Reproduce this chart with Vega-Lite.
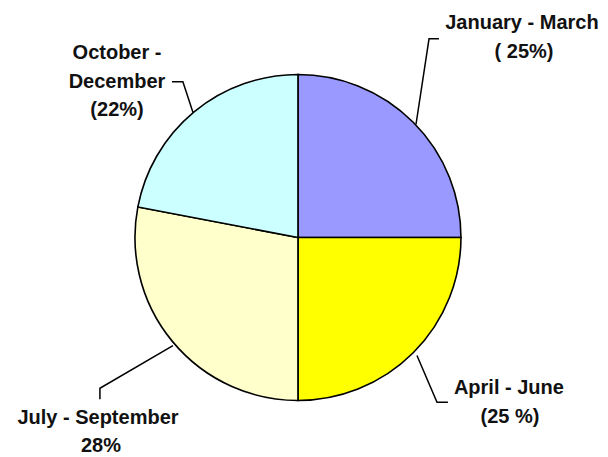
{
  "$schema": "https://vega.github.io/schema/vega-lite/v6.json",
  "width": 608,
  "height": 457,
  "autosize": {"type": "fit", "contains": "padding"},
  "padding": 0,
  "background": "white",
  "config": {"view": {"stroke": null}},
  "datasets": {
    "slices": [
      {"quarter": "January - March", "pct": 25, "ord": 1},
      {"quarter": "April - June", "pct": 25, "ord": 2},
      {"quarter": "July - September", "pct": 28, "ord": 3},
      {"quarter": "October - December", "pct": 22, "ord": 4}
    ],
    "labels": [
      {"text": "January - March", "lx": 137.4, "ly": 132.2},
      {"text": "( 25%)", "lx": 138.7, "ly": 114.4},
      {"text": "October -", "lx": -111.0, "ly": 113.8},
      {"text": "December", "lx": -111.0, "ly": 96.0},
      {"text": "(22%)", "lx": -111.0, "ly": 78.8},
      {"text": "April - June", "lx": 129.4, "ly": -92.9},
      {"text": "(25 %)", "lx": 130.1, "ly": -110.7},
      {"text": "July - September", "lx": -122.7, "ly": -111.3},
      {"text": "28%", "lx": -120.9, "ly": -128.5}
    ],
    "leaders": [
      {"grp": "jan", "i": 1, "px": 72.4, "py": 69.6},
      {"grp": "jan", "i": 2, "px": 80.4, "py": 122.4},
      {"grp": "jan", "i": 3, "px": 86.5, "py": 122.4},
      {"grp": "oct", "i": 1, "px": -77.3, "py": 96.0},
      {"grp": "oct", "i": 2, "px": -70.6, "py": 96.0},
      {"grp": "oct", "i": 3, "px": -64.4, "py": 77.0},
      {"grp": "apr", "i": 1, "px": 73.0, "py": -72.7},
      {"grp": "apr", "i": 2, "px": 85.3, "py": -101.5},
      {"grp": "apr", "i": 3, "px": 92.0, "py": -101.5},
      {"grp": "jul", "i": 1, "px": -76.7, "py": -66.6},
      {"grp": "jul", "i": 2, "px": -121.5, "py": -92.9},
      {"grp": "jul", "i": 3, "px": -121.5, "py": -99.7}
    ]
  },
  "layer": [
    {
      "data": {"name": "slices"},
      "mark": {"type": "arc", "outerRadius": 163, "stroke": "#000000", "strokeWidth": 1.6},
      "encoding": {
        "theta": {"field": "pct", "type": "quantitative", "stack": true},
        "order": {"field": "ord", "type": "quantitative", "sort": "ascending"},
        "color": {
          "field": "quarter",
          "type": "nominal",
          "scale": {
            "domain": ["January - March", "April - June", "July - September", "October - December"],
            "range": ["#9999FF", "#FFFF00", "#FFFFCC", "#CCFFFF"]
          },
          "legend": null
        },
        "x": {"datum": 0, "type": "quantitative", "scale": {"domain": [-182.8, 190.2], "nice": false, "zero": false}, "axis": null},
        "y": {"datum": 0, "type": "quantitative", "scale": {"domain": [-134.0, 146.3], "nice": false, "zero": false}, "axis": null}
      }
    },
    {
      "data": {"name": "leaders"},
      "mark": {"type": "line", "color": "#000000", "strokeWidth": 1.5},
      "encoding": {
        "x": {"field": "px", "type": "quantitative"},
        "y": {"field": "py", "type": "quantitative"},
        "detail": {"field": "grp", "type": "nominal"},
        "order": {"field": "i", "type": "quantitative"}
      }
    },
    {
      "data": {"name": "labels"},
      "mark": {"type": "text", "font": "Liberation Sans", "fontWeight": "bold", "fontSize": 20, "align": "center", "baseline": "middle", "color": "#111111"},
      "encoding": {
        "x": {"field": "lx", "type": "quantitative"},
        "y": {"field": "ly", "type": "quantitative"},
        "text": {"field": "text", "type": "nominal"}
      }
    }
  ]
}
